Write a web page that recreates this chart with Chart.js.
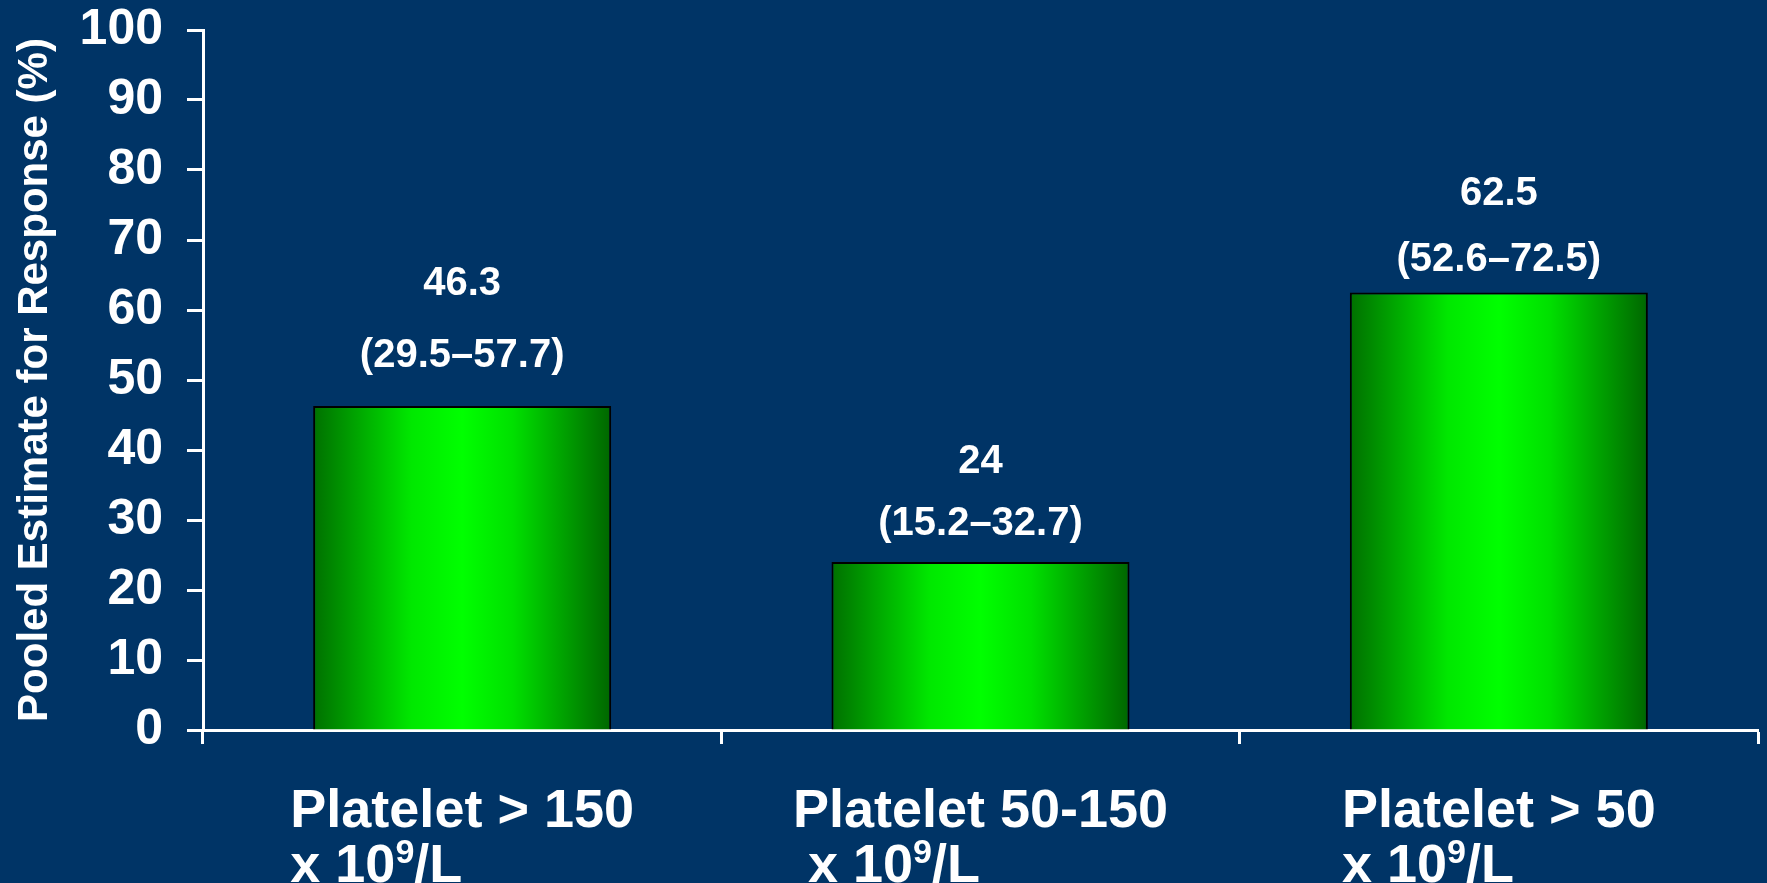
<!DOCTYPE html>
<html>
<head>
<meta charset="utf-8">
<script src="https://cdn.jsdelivr.net/npm/chart.js@4/dist/chart.umd.min.js"></script>
<style>
  html, body { margin: 0; padding: 0; background: #003466; }
  #wrap { width: 1767px; height: 883px; }
</style>
</head>
<body>
<div id="wrap"><canvas id="myChart" width="1767" height="883"></canvas></div>
<script>
// data
const categories = ['Platelet > 150', 'Platelet 50-150', 'Platelet > 50'];
const unitPrefix = ['x 10', ' x 10', 'x 10'];
const estimates = [46.3, 24, 62.5];
const ciLow = [29.5, 15.2, 52.6];
const ciHigh = [57.7, 32.7, 72.5];
const yTicks = [0, 10, 20, 30, 40, 50, 60, 70, 80, 90, 100];

const FONT = '"Liberation Sans", Arial, sans-serif';
const barFrac = 0.575;

const barFill = (c) => {
    const chart = c.chart;
    const xs = chart.scales.x;
    if (!xs || !chart.chartArea) return '#00ff00';
    const cx = xs.getPixelForValue(c.dataIndex);
    const half = (xs.width / categories.length) * barFrac / 2;
    const g = chart.ctx.createLinearGradient(cx - half, 0, cx + half, 0);
    g.addColorStop(0, '#007000');
    g.addColorStop(0.33, '#00e800');
    g.addColorStop(0.5, '#00ff00');
    g.addColorStop(0.67, '#00e000');
    g.addColorStop(1, '#006600');
    return g;
};

const labelsPlugin = {
    id: 'labelsPlugin',
    afterDraw(chart, args, opts) {
        const ctx = chart.ctx;
        const xs = chart.scales.x, ys = chart.scales.y;
        ctx.save();
        ctx.fillStyle = '#ffffff';
        // value + CI labels above bars
        ctx.font = 'bold 40px ' + FONT;
        ctx.textAlign = 'center';
        ctx.textBaseline = 'middle';
        estimates.forEach((v, i) => {
            const x = xs.getPixelForValue(i);
            const top = ys.getPixelForValue(v);
            ctx.fillText(String(v), x, top - opts.valueOffsets[i]);
            ctx.fillText('(' + ciLow[i] + '\u2013' + ciHigh[i] + ')', x, top - opts.ciOffsets[i]);
        });
        // category labels, two left-aligned lines
        ctx.textAlign = 'left';
        ctx.textBaseline = 'alphabetic';
        categories.forEach((name, i) => {
            ctx.font = 'bold 54px ' + FONT;
            const w = ctx.measureText(name).width;
            const left = xs.getPixelForValue(i) - w / 2;
            ctx.fillText(name, left, opts.line1);
            let x = left;
            ctx.fillText(unitPrefix[i], x, opts.line2);
            x += ctx.measureText(unitPrefix[i]).width;
            ctx.font = 'bold 34px ' + FONT;
            ctx.fillText('9', x, opts.line2 - 19);
            x += ctx.measureText('9').width;
            ctx.font = 'bold 54px ' + FONT;
            ctx.fillText('/L', x, opts.line2);
        });
        ctx.restore();
    }
};

const ctx = document.getElementById('myChart').getContext('2d');

const myChart = new Chart(ctx, {
    type: 'bar',
    data: {
        labels: categories,
        datasets: [{
            data: estimates,
            backgroundColor: barFill,
            borderColor: '#000000',
            borderWidth: 2,
            borderSkipped: 'bottom',
            barPercentage: barFrac,
            categoryPercentage: 1
        }]
    },
    options: {
        responsive: false,
        animation: false,
        layout: { padding: { top: 0, right: 9, left: 0, bottom: 0 } },
        plugins: {
            legend: { display: false },
            tooltip: { enabled: false },
            labelsPlugin: {
                valueOffsets: [122, 100, 99],
                ciOffsets: [50, 38, 33],
                line1: 827,
                line2: 882
            }
        },
        scales: {
            x: {
                grid: {
                    offset: true,
                    drawOnChartArea: false,
                    tickLength: 14,
                    tickColor: '#ffffff',
                    tickWidth: 3
                },
                border: { color: '#ffffff', width: 3 },
                ticks: { display: false },
                afterFit: (s) => { s.height = 153; }
            },
            y: {
                min: 0,
                max: 100,
                afterBuildTicks: (s) => { s.ticks = yTicks.map(v => ({ value: v })); },
                grid: {
                    drawOnChartArea: false,
                    tickLength: 16,
                    tickColor: '#ffffff',
                    tickWidth: 3
                },
                border: { color: '#ffffff', width: 3 },
                ticks: {
                    color: '#ffffff',
                    padding: 24,
                    font: { family: FONT, size: 50, weight: 'bold' }
                },
                title: {
                    display: true,
                    text: 'Pooled Estimate for Response (%)',
                    color: '#ffffff',
                    padding: { top: 10, bottom: 0 },
                    font: { family: FONT, size: 42, weight: 'bold' }
                },
                afterFit: (s) => {
                    s.width = 203;
                    s.paddingTop = 30;
                    s.paddingBottom = 0;
                }
            }
        }
    },
    plugins: [labelsPlugin]
});
</script>
</body>
</html>
